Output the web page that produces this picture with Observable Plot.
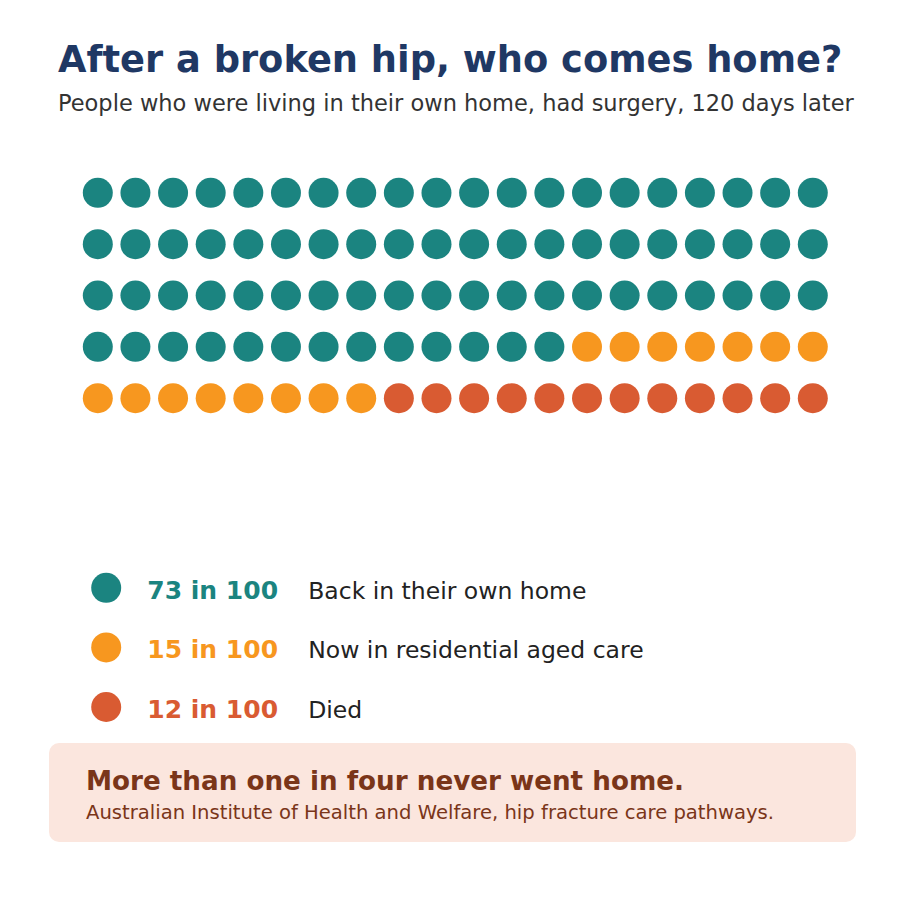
<!DOCTYPE html>
<html>
<head>
<meta charset="utf-8">
<script src="https://cdn.jsdelivr.net/npm/d3@7"></script>
<script src="https://cdn.jsdelivr.net/npm/@observablehq/plot@0.6"></script>
<style>
  html, body { margin: 0; padding: 0; background: #fff; }
  #page { position: relative; width: 904px; height: 899px; overflow: hidden; font-family: "DejaVu Sans", sans-serif; }
  .abs { position: absolute; white-space: nowrap; }
  #title { left: 58px; top: 41.5px; font-size: 36.8px; line-height: 36.8px; font-weight: bold; color: #1f3864; }
  #subtitle { left: 58px; top: 92.2px; font-size: 22.5px; line-height: 22.5px; color: #333333; }
  #callout { left: 49px; top: 743.3px; width: 807px; height: 98.4px; border-radius: 10px; background: #fbe6de; }
  #headline { left: 86px; top: 767.5px; font-size: 26.2px; line-height: 26.2px; font-weight: bold; color: #7a3519; }
  #source { left: 86px; top: 802.6px; font-size: 19.6px; line-height: 19.6px; color: #7a3519; }
  #page svg { position: absolute; left: 0; top: 0; }
</style>
</head>
<body>
<div id="page">
  <div id="callout" class="abs"></div>
  <div id="title" class="abs"></div>
  <div id="subtitle" class="abs"></div>
  <div id="headline" class="abs"></div>
  <div id="source" class="abs"></div>
</div>
<script>
// ---- data ----
const titleText = "After a broken hip, who comes home?";
const subtitleText = "People who were living in their own home, had surgery, 120 days later";
const categories = ["Back in their own home", "Now in residential aged care", "Died"];
const counts = [73, 15, 12];
const colors = ["#1b8480", "#f7971f", "#d95b32"];
const total = 100;
const columns = 20;
const headlineText = "More than one in four never went home.";
const sourceText = "Australian Institute of Health and Welfare, hip fracture care pathways.";

document.getElementById("title").textContent = titleText;
document.getElementById("subtitle").textContent = subtitleText;
document.getElementById("headline").textContent = headlineText;
document.getElementById("source").textContent = sourceText;

// build the 100 dots, filled row by row
const dots = [];
let idx = 0;
categories.forEach((cat, k) => {
  for (let j = 0; j < counts[k]; j++, idx++) {
    dots.push({i: idx, col: idx % columns, row: Math.floor(idx / columns), category: cat});
  }
});
const rows = Math.ceil(total / columns);

const colorScale = {domain: categories, range: colors};

const waffle = Plot.plot({
  width: 904,
  height: 899,
  marginLeft: 97.3,
  marginRight: 91.7,
  marginTop: 192.3,
  marginBottom: 501.3,
  x: {type: "point", domain: d3.range(columns), axis: null, padding: 0, inset: 0, round: false},
  y: {type: "point", domain: d3.range(rows), axis: null, padding: 0, inset: 0, round: false},
  color: colorScale,
  marks: [
    Plot.dot(dots, {x: "col", y: "row", r: 15, fill: "category", stroke: null})
  ]
});

const legendData = categories.map((c, k) => ({category: c, value: `${counts[k]} in ${total}`}));

const legend = Plot.plot({
  width: 904,
  height: 899,
  marginLeft: 0,
  marginRight: 0,
  marginTop: 587.3,
  marginBottom: 192.5,
  y: {type: "point", domain: categories, axis: null, padding: 0, inset: 0, round: false},
  color: colorScale,
  marks: [
    Plot.dot(legendData, {y: "category", frameAnchor: "left", dx: 105.7, r: 15, fill: "category"}),
    Plot.text(legendData, {y: "category", frameAnchor: "left", dx: 146.8, dy: 3, text: "value", fill: "category",
      textAnchor: "start", lineAnchor: "middle", fontSize: 25, fontWeight: "bold", fontFamily: "DejaVu Sans"}),
    Plot.text(legendData, {y: "category", frameAnchor: "left", dx: 307.7, dy: 3.5, text: "category", fill: "#222222",
      textAnchor: "start", lineAnchor: "middle", fontSize: 23.5, fontFamily: "DejaVu Sans"})
  ]
});

const page = document.getElementById("page");
page.appendChild(waffle);
page.appendChild(legend);
</script>
</body>
</html>
